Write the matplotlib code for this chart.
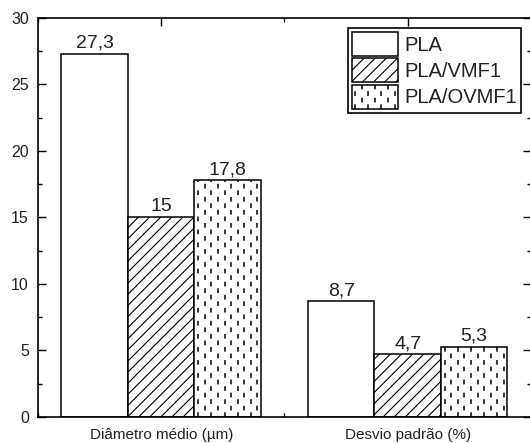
import numpy as np
import matplotlib
matplotlib.use("Agg")
import matplotlib.pyplot as plt
from matplotlib.patches import Rectangle, Patch
from matplotlib.lines import Line2D
from matplotlib.legend_handler import HandlerBase
from matplotlib.ticker import MultipleLocator

plt.rcParams['font.family'] = ['Liberation Sans', 'DejaVu Sans']
plt.rcParams['hatch.linewidth'] = 0.8
plt.rcParams['lines.scale_dashes'] = False

categories = ['Diâmetro médio (µm)', 'Desvio padrão (%)']
series = ['PLA', 'PLA/VMF1', 'PLA/OVMF1']
pla = [27.3, 8.7]
pla_vmf1 = [15.0, 4.7]
pla_ovmf1 = [17.8, 5.3]
value_labels = [['27,3', '8,7'], ['15', '4,7'], ['17,8', '5,3']]

DASH = (3.4, 6.0)   # on/off in points for the dashed fill
COL_STEP = 0.0265   # spacing of dashed columns in data units


def dashed_fill(ax, x0, w, h):
    xs = np.arange(x0 + COL_STEP * 0.6, x0 + w - COL_STEP * 0.3, COL_STEP)
    for i, xc in enumerate(xs):
        off = 0 if i % 2 == 0 else 4.7
        ax.plot([xc, xc], [0, h], color='black', lw=1.1,
                linestyle=(off, DASH), solid_capstyle='butt', zorder=3)


class DashedHandler(HandlerBase):
    def create_artists(self, legend, orig_handle, xdescent, ydescent,
                       width, height, fontsize, trans):
        arts = [Rectangle((-xdescent, -ydescent), width, height,
                          facecolor='white', edgecolor='black', lw=1.1,
                          transform=trans)]
        n = 7
        for i in range(n):
            xc = -xdescent + (i + 0.5) * width / n
            off = 0 if i % 2 == 0 else 4.7
            arts.append(Line2D([xc, xc], [-ydescent, -ydescent + height],
                               color='black', lw=1.1, linestyle=(off, DASH),
                               solid_capstyle='butt', transform=trans))
        return arts


fig = plt.figure(figsize=(5.30, 4.43), dpi=100)
ax = fig.add_axes([0.0717, 0.0587, 0.930, 0.9007])

x = np.arange(len(categories))
w = 0.27
hatches = ['', '///', '']
data = [pla, pla_vmf1, pla_ovmf1]
for k, vals in enumerate(data):
    xk = x + (k - 1) * w
    ax.bar(xk, vals, w, facecolor='white', edgecolor='black', lw=1.1,
           hatch=hatches[k], zorder=2)
    for xi, v, lab in zip(xk, vals, value_labels[k]):
        ax.annotate(lab, (xi, v), xytext=(0, 1.5), textcoords='offset points',
                    ha='center', va='bottom', fontsize=14, color='#222222')
    if k == 2:
        for xi, v in zip(xk, vals):
            dashed_fill(ax, xi - w / 2, w, v)

ax.set_xlim(-0.5, 1.5)
ax.set_ylim(0, 30)
ax.set_xticks(x)
ax.set_xticklabels(categories, fontsize=11, color='#222222')
ax.xaxis.set_minor_locator(MultipleLocator(0.5))
ax.yaxis.set_major_locator(MultipleLocator(5))
ax.yaxis.set_minor_locator(MultipleLocator(2.5))
ax.tick_params(axis='both', which='both', direction='in',
               top=True, right=True, width=1.0)
ax.tick_params(axis='both', which='major', length=6)
ax.tick_params(axis='both', which='minor', length=3)
ax.tick_params(axis='y', labelsize=11.5, pad=6.5, labelcolor='#222222')
ax.tick_params(axis='x', pad=8)
for s in ax.spines.values():
    s.set_linewidth(1.2)

handles = [Patch(facecolor='white', edgecolor='black', lw=1.1),
           Patch(facecolor='white', edgecolor='black', lw=1.1, hatch='///'),
           Patch(facecolor='white', edgecolor='black', lw=1.1)]
leg = ax.legend(handles, series, loc='upper right', fontsize=14.5,
                handler_map={handles[2]: DashedHandler()},
                handlelength=2.3, handleheight=1.45, labelspacing=0.12,
                handletextpad=0.3, borderpad=0.2, borderaxespad=0.5,
                fancybox=False, framealpha=1, edgecolor='black')
leg.get_frame().set_linewidth(1.2)
for t in leg.get_texts():
    t.set_color('#222222')

fig.savefig('out.png', dpi=100)
